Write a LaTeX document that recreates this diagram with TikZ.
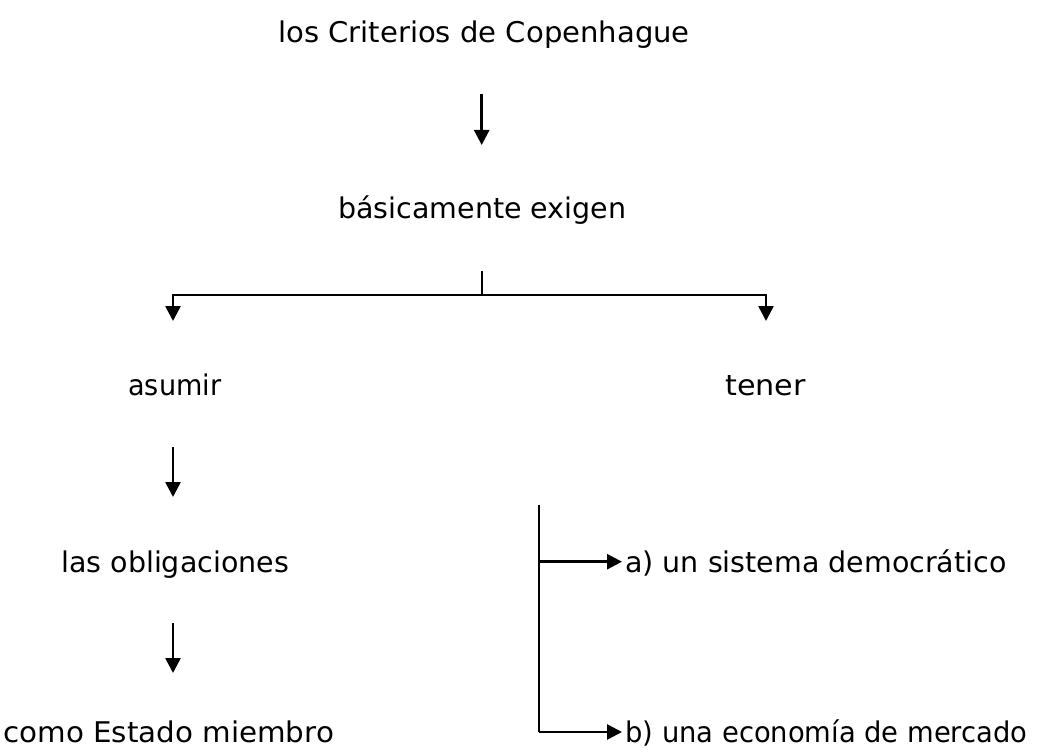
\documentclass[tikz,border=0pt]{standalone}
\usepackage{fontspec}
\setmainfont{DejaVu Sans}
\usetikzlibrary{arrows.meta}
\newcommand\hsx[2]{\scalebox{#1}[1]{#2}}
\begin{document}
\begin{tikzpicture}[x=1pt,y=-1pt, line width=2.6pt,
  lbl/.style={inner sep=0pt, anchor=base west, font=\fontsize{28.5}{34}\selectfont},
  arr/.style={-{Triangle[length=15pt,width=15pt]}}]
\useasboundingbox (0,0) rectangle (1047,754);
\node[lbl] (crit) at (277,43) {\hsx{1.02}{los Criterios de Copenhague}};
\node[lbl] (basic) at (337,219) {básicamente exigen};
\node[lbl] (asumir) at (127,395) {\hsx{0.95}{asumir}};
\node[lbl] (tener) at (724,395) {\hsx{1.06}{tener}};
\node[lbl] (oblig) at (60,572) {las obligaciones};
\node[lbl] (estado) at (2,742) {\hsx{1.03}{como Estado miembro}};
\node[lbl] (demo) at (624,572) {a) un sistema democrático};
\node[lbl] (merc) at (624,742) {\hsx{0.96}{b) una economía de mercado}};
% arrow 1
\coordinate (a1s) at (481.7,94);
\coordinate (a1e) at (481.7,145);
\draw[arr] (a1s) -- (a1e);
% branch
\coordinate (bs) at (482,271);
\coordinate (bj) at (482,295);
\coordinate (bl) at (173,295);
\coordinate (br) at (766,295);
\coordinate (ble) at (173,321);
\coordinate (bre) at (766,321);
\draw (bs) -- (bj);
\draw[arr] (bj) -- (bl) -- (ble);
\draw[arr] (bj) -- (br) -- (bre);
% left arrows
\coordinate (a2s) at (173,447);
\coordinate (a2e) at (173,497);
\draw[arr] (a2s) -- (a2e);
\coordinate (a3s) at (173,623);
\coordinate (a3e) at (173,673);
\draw[arr] (a3s) -- (a3e);
% right tree
\coordinate (rt) at (539,505);
\coordinate (rm) at (539,561.7);
\coordinate (rb) at (539,732);
\coordinate (ra) at (622,561.7);
\coordinate (rc) at (622,732);
\draw (rt) -- (rb);
\draw[arr] (rm) -- (ra);
\draw[arr] (rb) -- (rc);
\end{tikzpicture}
\end{document}
